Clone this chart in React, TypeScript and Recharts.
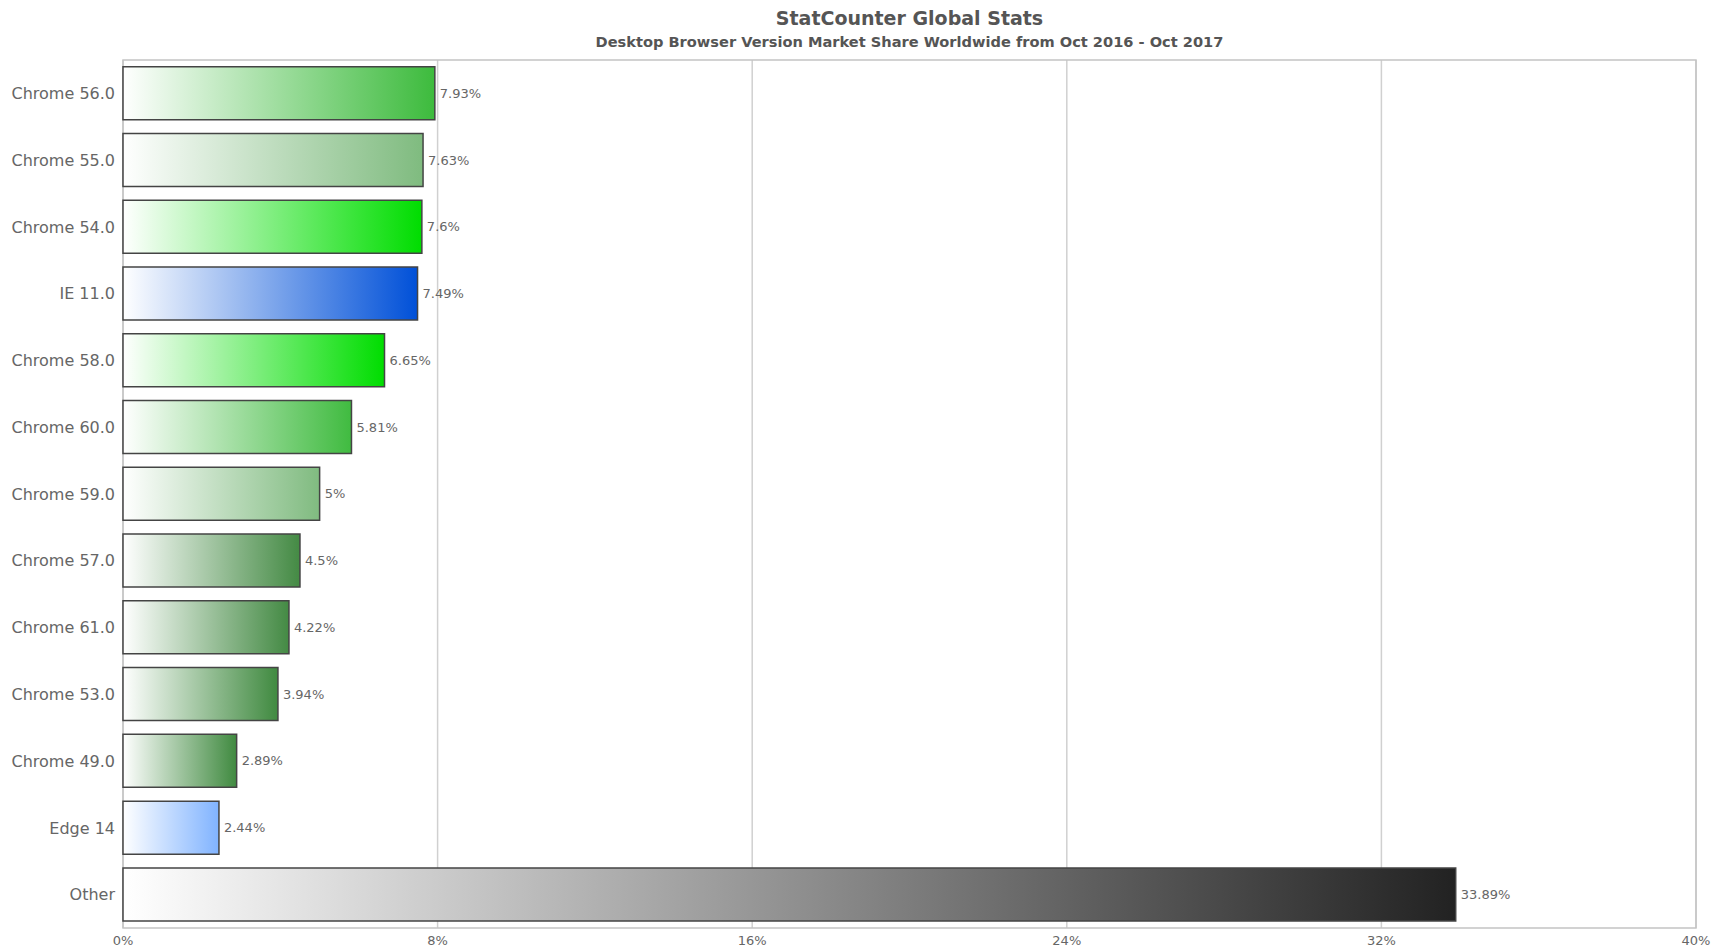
import React from "react";
import { BarChart, Bar, XAxis, YAxis, CartesianGrid, Cell, LabelList, ReferenceArea } from "recharts";

const browsers = [
  "Chrome 56.0",
  "Chrome 55.0",
  "Chrome 54.0",
  "IE 11.0",
  "Chrome 58.0",
  "Chrome 60.0",
  "Chrome 59.0",
  "Chrome 57.0",
  "Chrome 61.0",
  "Chrome 53.0",
  "Chrome 49.0",
  "Edge 14",
  "Other",
];
const shares = [7.93, 7.63, 7.6, 7.49, 6.65, 5.81, 5, 4.5, 4.22, 3.94, 2.89, 2.44, 33.89];
const xTicks = [0, 8, 16, 24, 32, 40];

// end colour of each bar's white -> colour gradient
const barColors = [
  "#3dbb3d",
  "#7fbb7f",
  "#00dd00",
  "#0050d8",
  "#00dd00",
  "#40bb40",
  "#80bb80",
  "#448a44",
  "#448a44",
  "#408a40",
  "#408a40",
  "#80b3ff",
  "#222222",
];

const data = browsers.map((name, i) => ({ name, value: shares[i] }));

const FONT = "'DejaVu Sans', sans-serif";

export default function App() {
  return (
    <div style={{ position: "absolute", left: 0, top: 0, width: 1711, height: 947, background: "#fff", fontFamily: FONT }}>
      <div
        style={{
          position: "absolute",
          left: 123,
          width: 1573,
          top: 7,
          textAlign: "center",
          fontSize: 19,
          fontWeight: "bold",
          color: "#555",
        }}
      >
        StatCounter Global Stats
      </div>
      <div
        style={{
          position: "absolute",
          left: 123,
          width: 1573,
          top: 33,
          textAlign: "center",
          fontSize: 14.6,
          fontWeight: "bold",
          color: "#555",
        }}
      >
        Desktop Browser Version Market Share Worldwide from Oct 2016 - Oct 2017
      </div>
      <BarChart
        width={1711}
        height={947}
        data={data}
        layout="vertical"
        margin={{ top: 60, right: 15, bottom: 0, left: 0 }}
        style={{ fontFamily: FONT }}
      >
        <defs>
          {barColors.map((c, i) => (
            <linearGradient key={i} id={`grad-${i}`} x1="0" y1="0" x2="1" y2="0">
              <stop offset="0%" stopColor="#ffffff" />
              <stop offset="100%" stopColor={c} />
            </linearGradient>
          ))}
        </defs>
        <CartesianGrid horizontal={false} stroke="#d0d0d0" strokeWidth={1.5} />
        <ReferenceArea x1={0} x2={40} fill="none" stroke="#c4c4c4" strokeWidth={1.5} fillOpacity={0} />
        <XAxis
          type="number"
          domain={[0, 40]}
          ticks={xTicks}
          tickFormatter={(v) => `${v}%`}
          axisLine={false}
          tickLine={false}
          tick={{ fill: "#666", fontSize: 13 }}
          interval={0}
          height={19}
        />
        <YAxis
          type="category"
          dataKey="name"
          width={123}
          axisLine={false}
          tickLine={false}
          tick={{ fill: "#666", fontSize: 16 }}
          interval={0}
        />
        <Bar dataKey="value" stroke="#444" strokeWidth={1.5} isAnimationActive={false}>
          {data.map((d, i) => (
            <Cell key={d.name} fill={`url(#grad-${i})`} />
          ))}
          <LabelList
            dataKey="value"
            position="right"
            offset={5}
            formatter={(v: any) => `${v}%`}
            style={{ fill: "#666", fontSize: 13, fontFamily: FONT }}
          />
        </Bar>
      </BarChart>
    </div>
  );
}
